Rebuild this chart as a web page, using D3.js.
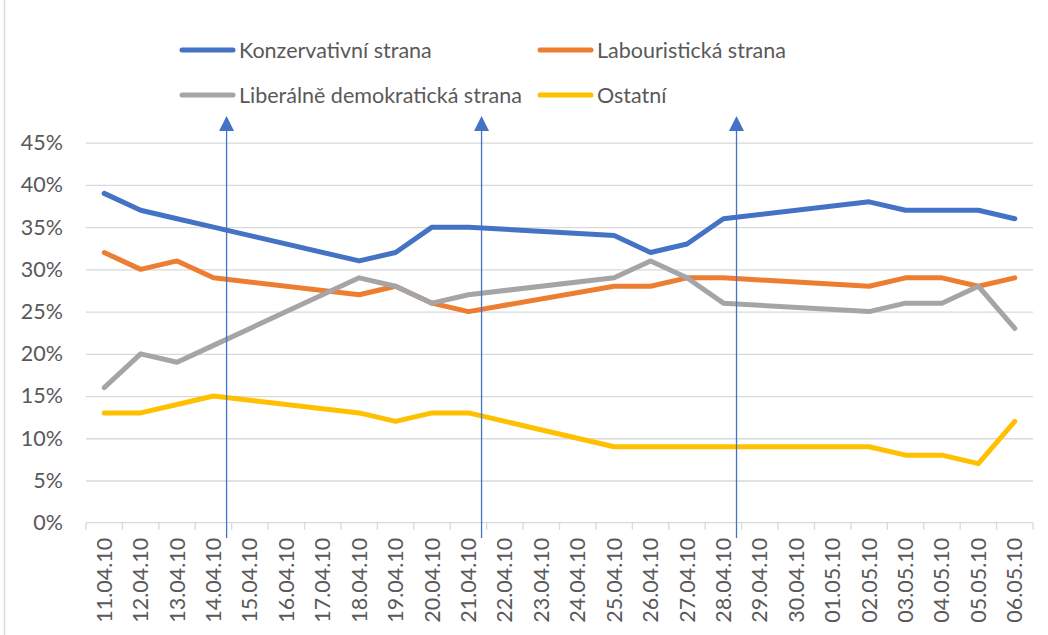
<!DOCTYPE html>
<html>
<head>
<meta charset="utf-8">
<script src="https://cdn.jsdelivr.net/npm/d3@7"></script>
<style>
  html, body { margin: 0; padding: 0; background: #ffffff; }
  svg { display: block; font-family: Lato, "Noto Sans", sans-serif; }
</style>
</head>
<body>
<svg id="chart" width="1048" height="635"></svg>
<script>
// ---- data ----
const dates = ["11.04.10","12.04.10","13.04.10","14.04.10","15.04.10","16.04.10","17.04.10","18.04.10","19.04.10","20.04.10","21.04.10","22.04.10","23.04.10","24.04.10","25.04.10","26.04.10","27.04.10","28.04.10","29.04.10","30.04.10","01.05.10","02.05.10","03.05.10","04.05.10","05.05.10","06.05.10"];
const seriesNames = ["Konzervativní strana","Labouristická strana","Liberálně demokratická strana","Ostatní"];
const konzervativni = [39,37,36,35,null,null,null,31,32,35,35,null,null,null,34,32,33,36,null,null,null,38,37,37,37,36];
const labouristicka = [32,30,31,29,null,null,null,27,28,26,25,null,null,null,28,28,29,29,null,null,null,28,29,29,28,29];
const liberalni     = [16,20,19,21,null,null,null,29,28,26,27,null,null,null,29,31,29,26,null,null,null,25,26,26,28,23];
const ostatni       = [13,13,14,15,null,null,null,13,12,13,13,null,null,null,9,9,9,9,null,null,null,9,8,8,7,12];
const yTicks = [0,5,10,15,20,25,30,35,40,45];
const arrowDates = ["14.04.10","21.04.10","28.04.10"];

const seriesValues = [konzervativni, labouristicka, liberalni, ostatni];
const colors = ["#4472C4","#ED7D31","#A5A5A5","#FFC000"];

// ---- layout ----
const plotLeft = 86, plotRight = 1033, plotTop = 142.7, plotBottom = 522.7;
const svg = d3.select("#chart");
const textColor = "#595959";
const gridColor = "#D9D9D9";
const fontSize = "21.5px";

const x = d3.scaleBand().domain(dates).range([plotLeft, plotRight]).padding(0);
const y = d3.scaleLinear().domain([0, 45]).range([plotBottom, plotTop]);
const cx = d => x(d) + x.bandwidth() / 2;

// left frame line
svg.append("line").attr("x1", 4.5).attr("x2", 4.5).attr("y1", 0).attr("y2", 635)
  .attr("stroke", gridColor).attr("stroke-width", 1.5);

// gridlines
const grid = svg.append("g").attr("transform", `translate(${plotLeft},0)`)
  .call(d3.axisLeft(y).tickValues(yTicks.filter(t => t > 0)).tickSize(-(plotRight - plotLeft)).tickFormat(""));
grid.select(".domain").remove();
grid.selectAll(".tick line").attr("stroke", gridColor).attr("stroke-width", 1.3);

// y labels
const yAxis = svg.append("g").attr("transform", `translate(${plotLeft - 23},0)`)
  .call(d3.axisLeft(y).tickValues(yTicks).tickSize(0).tickPadding(0).tickFormat(d => d + "%"));
yAxis.select(".domain").remove();
yAxis.selectAll("text").attr("fill", textColor).style("font-size", fontSize).style("font-family", "Lato, 'Noto Sans', sans-serif");

// x axis line + boundary ticks
svg.append("line").attr("x1", plotLeft).attr("x2", plotRight).attr("y1", plotBottom).attr("y2", plotBottom)
  .attr("stroke", gridColor).attr("stroke-width", 1.3);
const boundaries = dates.map(d => x(d)).concat([plotRight]);
svg.append("g").selectAll("line").data(boundaries).join("line")
  .attr("x1", d => d).attr("x2", d => d).attr("y1", plotBottom).attr("y2", plotBottom + 7)
  .attr("stroke", gridColor).attr("stroke-width", 1.3);

// x labels
const xAxis = svg.append("g").attr("transform", `translate(0,${plotBottom})`)
  .call(d3.axisBottom(x).tickSize(0).tickFormat(d => d));
xAxis.select(".domain").remove();
xAxis.selectAll("text")
  .attr("fill", textColor)
  .style("font-size", fontSize).style("font-family", "Lato, 'Noto Sans', sans-serif")
  .attr("text-anchor", "end")
  .attr("transform", "translate(0,15) rotate(-90)")
  .attr("x", 0).attr("y", 0).attr("dy", "0.35em");

// lines
const line = d3.line().x(d => cx(d.date)).y(d => y(d.v));
seriesValues.forEach((vals, i) => {
  const pts = dates.map((d, j) => ({date: d, v: vals[j]})).filter(p => p.v !== null);
  svg.append("path").datum(pts).attr("d", line)
    .attr("fill", "none").attr("stroke", colors[i]).attr("stroke-width", 5)
    .attr("stroke-linejoin", "round").attr("stroke-linecap", "round");
});

// arrows
const arrowColor = "#4472C4";
arrowDates.forEach(d => {
  const ax = x(d) + x.bandwidth() * 0.86;
  svg.append("line").attr("x1", ax).attr("x2", ax).attr("y1", 538).attr("y2", 130)
    .attr("stroke", arrowColor).attr("stroke-width", 1.3);
  svg.append("path").attr("d", `M${ax},116 L${ax - 7.5},131 L${ax + 7.5},131 Z`).attr("fill", arrowColor);
});

// legend
const legendPos = [[180, 50], [538, 50], [180, 95], [538, 95]];
seriesNames.forEach((name, i) => {
  const [lx, ly] = legendPos[i];
  svg.append("line").attr("x1", lx + 2).attr("x2", lx + 53).attr("y1", ly).attr("y2", ly)
    .attr("stroke", colors[i]).attr("stroke-width", 5).attr("stroke-linecap", "round");
  svg.append("text").attr("x", lx + 59).attr("y", ly).attr("dy", "0.35em")
    .attr("fill", textColor).style("font-size", fontSize).text(name);
});
</script>
</body>
</html>
